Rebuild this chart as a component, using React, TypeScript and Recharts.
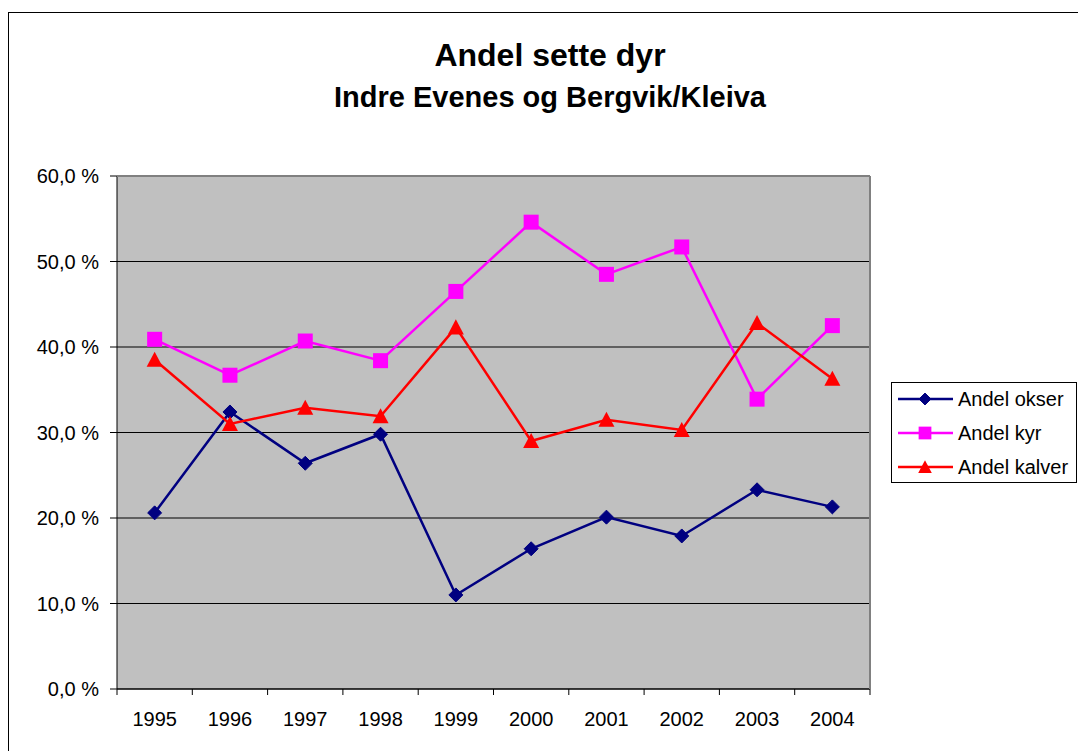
import React from 'react'
import { LineChart, Line, XAxis, YAxis, CartesianGrid } from 'recharts'

const years = ['1995', '1996', '1997', '1998', '1999', '2000', '2001', '2002', '2003', '2004']
const okser = [20.6, 32.4, 26.4, 29.8, 11.0, 16.4, 20.1, 17.9, 23.3, 21.3]
const kyr = [40.9, 36.7, 40.7, 38.4, 46.5, 54.6, 48.5, 51.7, 33.9, 42.5]
const kalver = [38.5, 31.0, 32.9, 31.9, 42.3, 29.0, 31.5, 30.3, 42.8, 36.3]
const yTicks = [0, 10, 20, 30, 40, 50, 60]

const seriesList = [
  { key: 'okser', name: 'Andel okser', color: '#000080', shape: 'diamond' },
  { key: 'kyr', name: 'Andel kyr', color: '#FF00FF', shape: 'square' },
  { key: 'kalver', name: 'Andel kalver', color: '#FF0000', shape: 'triangle' },
]

const chartData = years.map((year, i) => ({
  year,
  okser: okser[i],
  kyr: kyr[i],
  kalver: kalver[i],
}))

const W = 1078
const H = 751
const PLOT_LEFT = 117
const PLOT_TOP = 176
const PLOT_RIGHT = 870
const PLOT_BOTTOM = 689
const Y_AXIS_W = 60
const X_AXIS_H = 30
const BAND = (PLOT_RIGHT - PLOT_LEFT) / years.length
const FONT = '"Liberation Sans", Arial, sans-serif'

function Marker({ shape, cx, cy, color, s = 1 }: { shape: string; cx: number; cy: number; color: string; s?: number }) {
  if (shape === 'diamond') {
    const r = 7 * s
    return <polygon points={`${cx},${cy - r} ${cx + r},${cy} ${cx},${cy + r} ${cx - r},${cy}`} fill={color} stroke={color} />
  }
  if (shape === 'square') {
    const r = 7.5 * s
    return <rect x={cx - r} y={cy - r} width={r * 2} height={r * 2} fill={color} />
  }
  const r = 8 * s
  return <polygon points={`${cx},${cy - r} ${cx + r},${cy + r * 0.88} ${cx - r},${cy + r * 0.88}`} fill={color} />
}

const makeDot = (shape: string, color: string) => (props: any) => {
  const { cx, cy, index } = props
  if (cx == null || cy == null) return <g key={index} />
  return (
    <g key={`${shape}-${index}`}>
      <Marker shape={shape} cx={cx} cy={cy} color={color} />
    </g>
  )
}

function YearTick(props: any) {
  const { x, payload, index } = props
  return (
    <g>
      <line x1={x - BAND / 2} x2={x - BAND / 2} y1={PLOT_BOTTOM} y2={PLOT_BOTTOM + 6} stroke="#000" />
      {index === years.length - 1 && (
        <line x1={x + BAND / 2} x2={x + BAND / 2} y1={PLOT_BOTTOM} y2={PLOT_BOTTOM + 6} stroke="#000" />
      )}
      <text x={x} y={PLOT_BOTTOM + 37} textAnchor="middle" fontSize={20} fontFamily={FONT} fill="#000">
        {payload.value}
      </text>
    </g>
  )
}

const fmtPct = (v: number) => `${v.toFixed(1).replace('.', ',')} %`

export default function App() {
  return (
    <div style={{ position: 'absolute', left: 0, top: 0, width: W, height: H, overflow: 'hidden', background: '#fff' }}>
      <div style={{ position: 'absolute', left: 8, top: 12, width: W, height: H, border: '1px solid #000' }} />
      <svg style={{ position: 'absolute', left: 0, top: 0 }} width={W} height={140}>
        <text x={550} y={66} textAnchor="middle" fontSize={32} fontWeight="bold" fontFamily={FONT}>
          Andel sette dyr
        </text>
        <text x={550} y={107} textAnchor="middle" fontSize={29} fontWeight="bold" fontFamily={FONT}>
          Indre Evenes og Bergvik/Kleiva
        </text>
      </svg>
      <div style={{ position: 'absolute', left: 0, top: 0 }}>
        <LineChart
          width={W}
          height={H}
          data={chartData}
          margin={{ top: PLOT_TOP, right: W - PLOT_RIGHT, bottom: H - PLOT_BOTTOM - X_AXIS_H, left: PLOT_LEFT - Y_AXIS_W }}
        >
          <CartesianGrid vertical={false} stroke="#000" fill="#C0C0C0" />
          <XAxis
            dataKey="year"
            height={X_AXIS_H}
            interval={0}
            padding={{ left: BAND / 2, right: BAND / 2 }}
            axisLine={{ stroke: '#000' }}
            tickLine={false}
            tick={<YearTick />}
          />
          <YAxis
            width={Y_AXIS_W}
            domain={[0, 60]}
            ticks={yTicks}
            tickFormatter={fmtPct}
            tickSize={7}
            tickMargin={11}
            axisLine={{ stroke: '#000' }}
            tickLine={{ stroke: '#000' }}
            tick={{ fontSize: 20, fontFamily: FONT, fill: '#000' }}
          />
          {seriesList.map((s) => (
            <Line
              key={s.key}
              type="linear"
              dataKey={s.key}
              name={s.name}
              stroke={s.color}
              strokeWidth={2.5}
              dot={makeDot(s.shape, s.color)}
              activeDot={false}
              isAnimationActive={false}
            />
          ))}
        </LineChart>
      </div>
      <div
        style={{
          position: 'absolute',
          left: PLOT_LEFT,
          top: PLOT_TOP,
          width: PLOT_RIGHT - PLOT_LEFT + 1,
          height: PLOT_BOTTOM - PLOT_TOP,
          boxSizing: 'border-box',
          borderTop: '1px solid #808080',
          borderRight: '2px solid #808080',
          pointerEvents: 'none',
        }}
      />
      <div
        style={{
          position: 'absolute',
          left: 891,
          top: 382,
          width: 186,
          height: 101,
          boxSizing: 'border-box',
          border: '1px solid #000',
          background: '#fff',
        }}
      >
        <svg width={184} height={99}>
          {seriesList.map((s, i) => {
            const cy = 16 + i * 34
            return (
              <g key={s.key}>
                <line x1={6} x2={61} y1={cy} y2={cy} stroke={s.color} strokeWidth={2.5} />
                <Marker shape={s.shape} cx={33} cy={cy} color={s.color} s={0.85} />
                <text x={66} y={cy + 7} fontSize={20} fontFamily={FONT} fill="#000">
                  {s.name}
                </text>
              </g>
            )
          })}
        </svg>
      </div>
    </div>
  )
}
